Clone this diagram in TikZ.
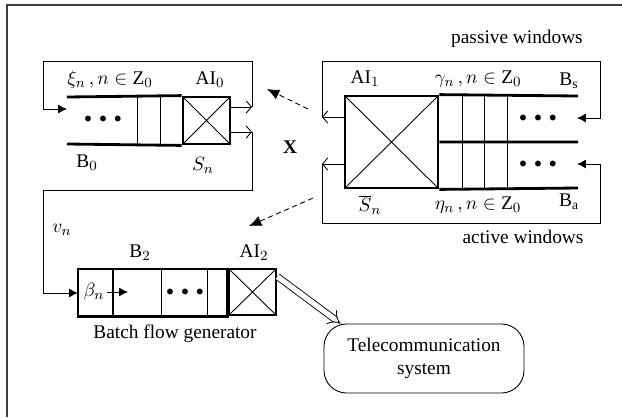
\documentclass[tikz,border=0pt]{standalone}
\usepackage{fontspec}
\setmainfont{Liberation Serif}
\usetikzlibrary{arrows.meta}
\newcommand{\qdots}{{\fontsize{8}{8}\selectfont$\bullet\;\bullet\;\bullet$}}
\tikzset{
    aibox/.style={
        draw,
        line width=1.6pt, % thick frame
        inner sep=0,
        path picture={
            \draw[line width=0.5pt]
                (path picture bounding box.north west) -- (path picture bounding box.south east)
                (path picture bounding box.south west) -- (path picture bounding box.north east);
        }
    },
    thickline/.style={line width=1.6pt},
    thinline/.style={line width=0.5pt},
    outarrow/.style={
        line width=0.5pt,
        -{Straight Barb[length=3pt,width=7pt]} % open tip
    },
    inarrow/.style={
        line width=0.5pt,
        -{Latex[length=5pt,width=5pt]} % filled tip
    },
    dasharrow/.style={
        line width=0.5pt,
        densely dashed,
        -{Latex[length=7pt,width=6pt]}
    },
    label/.style={inner sep=1pt, font=\fontsize{11}{13}\selectfont}
}
\begin{document}
\begin{tikzpicture}[x=0.02cm, y=-0.02cm, line join=miter]
    \useasboundingbox (0,0) rectangle (622,417);
    % outer frame (cut off at right and bottom)
    \draw[line width=1.2pt, black!75] (7,417) -- (7,5) -- (622,5);

    % ---- queue B0 with AI0 ----
    \node[aibox, minimum width=0.94cm, minimum height=0.94cm] (ai0) at (206.5,120.5) {};
    \draw[thickline] (67,97) -- (ai0.north west) (67,144) -- (ai0.south west);
    \draw[thinline] (137,97) -- (137,144) (160,97) -- (160,144);
    \node[label] (dots0) at (103,119) {\qdots};
    \coordinate (o0a) at (252,107);
    \coordinate (o0b) at (252,132);
    \draw[outarrow] (ai0.east |- o0a) -- (o0a);
    \draw[outarrow] (ai0.east |- o0b) -- (o0b);
    \draw[inarrow] (o0a) -- (252,61) -- (43,61) -- (43,109) -- (67,109);

    \node[label] (xi) at (110,80) {$\xi_n\,,n\in\mathrm{Z}_0$};
    \node[label] (ai0lab) at (210,80) {AI$_0$};
    \node[label] (b0) at (87,163) {B$_0$};
    \node[label] (sn) at (203,165) {$S_n$};
    \node[label] (xx) at (290,147) {\textbf{X}};

    % ---- AI1 with passive / active windows ----
    \node[aibox, minimum width=1.86cm, minimum height=1.84cm] (ai1) at (391.5,142) {};
    \draw[thickline] (ai1.north east) -- (578,96)
                     (ai1.east) -- (578,142)
                     (ai1.south east) -- (578,188);
    \foreach \cx in {462,484,507}
        \draw[thinline] (\cx,96) -- (\cx,188);
    \node[label] (dotss) at (538,118) {\qdots};
    \node[label] (dotsa) at (538,164) {\qdots};
    \coordinate (o1a) at (322,117);
    \coordinate (o1b) at (322,164);
    \draw[outarrow] (ai1.west |- o1a) -- (o1a);
    \draw[outarrow] (ai1.west |- o1b) -- (o1b);
    \draw[inarrow] (o1a) -- (322,61) -- (600,61) -- (600,118) -- (577,118);
    \draw[inarrow] (o1b) -- (322,223) -- (600,223) -- (600,164) -- (577,164);

    \node[label] (pas) at (517,39) {passive windows};
    \node[label] (act) at (523,237) {active windows};
    \node[label] (ai1lab) at (365,79) {AI$_1$};
    \node[label] (gam) at (478,79) {$\gamma_n\,,n\in\mathrm{Z}_0$};
    \node[label] (bs) at (569,81) {B$_\mathrm{s}$};
    \node[label] (sbar) at (370,205) {$\overline{S}_n$};
    \node[label] (eta) at (478,205) {$\eta_n\,,n\in\mathrm{Z}_0$};
    \node[label] (ba) at (569,202) {B$_\mathrm{a}$};

    % ---- batch flow generator ----
    \node[aibox, minimum width=0.94cm, minimum height=0.92cm] (ai2) at (252.5,292) {};
    \draw[thickline] (78,269) rectangle (ai2.south west);
    \draw[thickline] (113,269) -- (113,315);
    \draw[thinline] (161,269) -- (161,315) (207,269) -- (207,315);
    \node[label] (beta) at (94,292) {$\beta_n$};
    \coordinate (bin) at (128,292);
    \draw[inarrow] (107,292) -- (bin);
    \node[label] (dots2) at (185,292) {\qdots};
    \draw[inarrow] (o0b) -- (252,190) -- (43,190) -- (43,293) -- (78,293);

    \node[label] (vn) at (62,230) {$v_n$};
    \node[label] (b2) at (140,253) {B$_2$};
    \node[label] (ai2lab) at (254,253) {AI$_2$};
    \node[label] (gen) at (175,334) {Batch flow generator};

    % ---- telecommunication system ----
    \node[draw, thinline, rounded corners=0.45cm, minimum width=4cm, minimum height=1.38cm,
          align=center, label] (tele) at (424,358.5) {Telecommunication\\system};
    \coordinate (tin) at ([xshift=0.34cm]tele.north west);
    \draw[thinline, double, double distance=3pt, -{Implies[length=8pt,width=17pt]}]
        ([yshift=-0.18cm]ai2.north east) -- (tin);

    % ---- dashed arrows ----
    \draw[dasharrow] (308,109) -- (267,89);
    \draw[dasharrow] (313,198) -- (249,226);
\end{tikzpicture}
\end{document}
